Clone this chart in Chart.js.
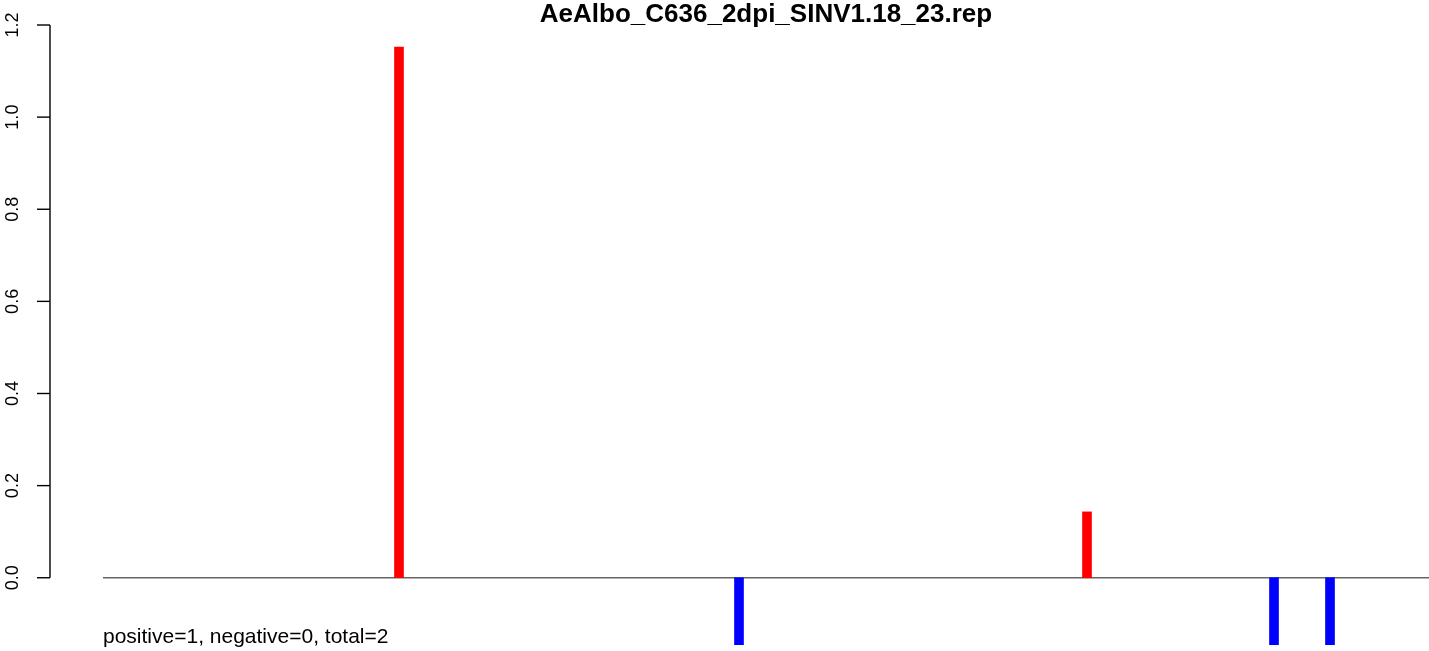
<!DOCTYPE html>
<html>
<head>
<meta charset="utf-8">
<script src="https://cdn.jsdelivr.net/npm/chart.js@4/dist/chart.umd.min.js"></script>
<style>
  html, body { margin: 0; padding: 0; background: #fff; }
  #wrap { width: 1429px; height: 651px; position: relative; }
</style>
</head>
<body>
<div id="wrap"><canvas id="repChart"></canvas></div>
<script>
const chartTitle = 'AeAlbo_C636_2dpi_SINV1.18_23.rep';
const footNote = 'positive=1, negative=0, total=2';
const positions = [296, 636, 984, 1171, 1227];
const values = [1.152, -0.146, 0.143, -0.146, -0.146];
const xRange = [0, 1326];
const yRange = [-0.146, 1.2];
const yTicks = [0.0, 0.2, 0.4, 0.6, 0.8, 1.0, 1.2];

const FONT = '"Liberation Sans", Arial, Helvetica, sans-serif';

// R-style extras: offset y axis, zero line, title and footnote
const rDecor = {
  id: 'rDecor',
  beforeDatasetsDraw(chart) {
    const ctx = chart.ctx;
    const xs = chart.scales.x, ys = chart.scales.y;
    ctx.save();
    ctx.strokeStyle = '#666';
    ctx.lineWidth = 1.4;
    const y0 = ys.getPixelForValue(0);
    ctx.beginPath();
    ctx.moveTo(xs.getPixelForValue(xRange[0]), y0);
    ctx.lineTo(xs.getPixelForValue(xRange[1]), y0);
    ctx.stroke();
    ctx.restore();
  },
  afterDraw(chart) {
    const ctx = chart.ctx;
    const area = chart.chartArea;
    const ys = chart.scales.y;
    const axisX = area.left - 53;
    ctx.save();
    ctx.strokeStyle = '#000';
    ctx.lineWidth = 1.4;
    ctx.beginPath();
    ctx.moveTo(axisX, ys.getPixelForValue(yTicks[0]));
    ctx.lineTo(axisX, ys.getPixelForValue(yTicks[yTicks.length - 1]));
    ctx.stroke();
    ctx.font = '18px ' + FONT;
    ctx.fillStyle = '#000';
    ctx.textAlign = 'center';
    ctx.textBaseline = 'middle';
    yTicks.forEach(t => {
      const py = ys.getPixelForValue(t);
      ctx.beginPath();
      ctx.moveTo(axisX - 13, py);
      ctx.lineTo(axisX, py);
      ctx.stroke();
      ctx.save();
      ctx.translate(axisX - 37, py);
      ctx.rotate(-Math.PI / 2);
      ctx.fillText(t.toFixed(1), 0, 0);
      ctx.restore();
    });

    // title
    ctx.font = 'bold 26px ' + FONT;
    ctx.textAlign = 'center';
    ctx.textBaseline = 'alphabetic';
    ctx.fillText(chartTitle, (area.left + area.right) / 2, 22);

    // footnote
    ctx.font = '21px ' + FONT;
    ctx.textAlign = 'left';
    ctx.fillText(footNote, area.left, 643);
    ctx.restore();
  }
};

window.addEventListener('DOMContentLoaded', () => {
  const ctx = document.getElementById('repChart').getContext('2d');

  new Chart(ctx, {
    type: 'bar',
    data: {
      datasets: [{
        data: positions.map((p, i) => ({ x: p, y: values[i] })),
        backgroundColor: values.map(v => v > 0 ? '#ff0000' : '#0000ff'),
        borderWidth: 0,
        barThickness: 9
      }]
    },
    options: {
      responsive: true,
      maintainAspectRatio: false,
      animation: false,
      layout: { padding: { left: 103, top: 25, right: 0, bottom: 6 } },
      scales: {
        x: { type: 'linear', min: xRange[0], max: xRange[1], offset: false, display: false },
        y: { min: yRange[0], max: yRange[1], display: false }
      },
      plugins: {
        legend: { display: false },
        title: { display: false },
        tooltip: { enabled: false }
      }
    },
    plugins: [rDecor]
  });
});
</script>
</body>
</html>
